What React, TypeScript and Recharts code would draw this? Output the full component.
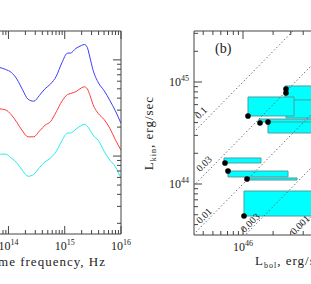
import { LineChart, Line, XAxis, YAxis, ComposedChart, Scatter, ReferenceArea, ReferenceLine, ReferenceDot } from 'recharts'

const SERIF = '"Liberation Serif", "DejaVu Serif", serif'
const AXIS = '#444'

// panel (a): SEDs, log nu vs log nuL_nu
const nuLog = [13.85, 13.95, 14.05, 14.15, 14.25, 14.35, 14.45, 14.55, 14.65, 14.75, 14.85, 14.95, 15.05, 15.1, 15.2, 15.3, 15.35, 15.4, 15.45, 15.5, 15.6, 15.7, 15.8, 15.9, 16.0]
const blueSed = [44.92, 44.9, 44.87, 44.8, 44.69, 44.59, 44.57, 44.63, 44.7, 44.75, 44.83, 44.97, 45.07, 45.07, 45.12, 45.15, 45.16, 45.13, 45.02, 44.9, 44.76, 44.68, 44.58, 44.47, 44.34]
const redSed = [44.49, 44.48, 44.43, 44.35, 44.26, 44.2, 44.2, 44.26, 44.32, 44.36, 44.46, 44.57, 44.64, 44.65, 44.67, 44.71, 44.72, 44.7, 44.63, 44.54, 44.44, 44.38, 44.29, 44.17, 44.06]
const cyanSed = [44.02, 44.02, 43.98, 43.93, 43.85, 43.79, 43.81, 43.88, 43.94, 43.98, 44.05, 44.16, 44.24, 44.24, 44.28, 44.32, 44.33, 44.31, 44.27, 44.22, 44.16, 44.05, 43.96, 43.89, 43.77]

// panel (b): log L_kin vs log L_bol boxes, with the marked point of each
const lbolLo = [46.01, 46.04, 45.85, 45.81, 46.25, 46.16, 46.43, 46.42, 46.05]
const lbolHi = [46.9, 46.54, 46.45, 46.18, 46.9, 46.9, 46.9, 46.9, 46.51]
const lkinLo = [43.686, 44.039, 44.069, 44.206, 44.5, 44.608, 44.647, 44.824, 44.667]
const lkinHi = [43.931, 44.059, 44.127, 44.255, 44.618, 44.637, 44.912, 44.961, 44.853]
const dotLbol = [46.01, 46.04, 45.85, 45.82, 46.25, 46.17, 46.43, 46.43, 46.05]
const dotLkin = [43.686, 44.049, 44.127, 44.206, 44.608, 44.598, 44.892, 44.931, 44.667]

// L_kin / L_bol lines and where their labels sit
const ratios = [0.1, 0.03, 0.01, 0.003, 0.001]
const ratioNames = ['0.1', '0.03', '0.01', '0.003', '0.001']
const ratioLabelX = [45.58, 45.61, 45.61, 46.07, 46.57]
const ratioLabelY = [44.7, 44.2, 43.69, 43.62, 43.6]

const nuDomain = [13.85, 16]
const sedDomain = [43.19, 45.3]
const lbolDomain = [45.51, 46.68]
const lkinDomain = [43.5, 45.5]
const minorMult = [2, 3, 4, 5, 6, 7, 8, 9]

const sedRows = nuLog.map((nu, i) => ({ nu, blue: blueSed[i], red: redSed[i], cyan: cyanSed[i] }))
const dots = dotLbol.map((x, i) => ({ x, y: dotLkin[i] }))

function logTicks([lo, hi]: number[]) {
  const out: number[] = []
  for (let n = Math.floor(lo); n <= Math.ceil(hi); n++) {
    out.push(n)
    minorMult.forEach(m => out.push(n + Math.log10(m)))
  }
  return out.filter(v => v >= lo && v <= hi).sort((a, b) => a - b)
}

const isMajor = (v: number) => Math.abs(v - Math.round(v)) < 1e-9

function LogTick({ x, y, payload, side, labelled }: any) {
  const v = payload.value
  const major = isMajor(v)
  const len = major ? 8 : 4
  let line
  if (side === 'bottom') line = <line x1={x} x2={x} y1={y} y2={y - len} />
  else if (side === 'top') line = <line x1={x} x2={x} y1={y} y2={y + len} />
  else if (side === 'left') line = <line x1={x} x2={x + len} y1={y} y2={y} />
  else line = <line x1={x} x2={x - len} y1={y} y2={y} />

  let label = null
  if (labelled && major) {
    const exp = Math.round(v)
    if (side === 'bottom') {
      label = (
        <text x={x} y={y + 16} textAnchor="middle" fontSize={12} fill="#222" stroke="none" fontFamily={SERIF}>
          10<tspan dy={-5} fontSize={8}>{exp}</tspan>
        </text>
      )
    } else {
      label = (
        <text x={x - 5} y={y + 4} textAnchor="end" fontSize={12} fill="#222" stroke="none" fontFamily={SERIF}>
          10<tspan dy={-5} fontSize={8}>{exp}</tspan>
        </text>
      )
    }
  }
  return (
    <g stroke={AXIS} strokeWidth={1}>
      {line}
      {label}
    </g>
  )
}

const tickFor = (side: string, labelled: boolean) => (p: any) => <LogTick {...p} side={side} labelled={labelled} />

export default function App() {
  const nuTicks = logTicks(nuDomain)
  const sedTicks = logTicks(sedDomain)
  const lbolTicks = logTicks(lbolDomain)
  const lkinTicks = logTicks(lkinDomain)

  return (
    <div style={{ position: 'fixed', left: 0, top: 0, width: 311, height: 284, overflow: 'hidden', background: '#fff' }}>
      {/* panel (a), cut off on the left */}
      <div style={{ position: 'absolute', left: 0, top: 0 }}>
        <LineChart width={145} height={284} data={sedRows} margin={{ top: 30, right: 23, bottom: 49, left: 0 }}>
          <XAxis type="number" dataKey="nu" domain={nuDomain} allowDataOverflow ticks={nuTicks} interval={0}
            height={1} tickSize={0} tickMargin={0} tickLine={false} axisLine={{ stroke: AXIS }} tick={tickFor('bottom', true)} />
          <XAxis xAxisId="top" orientation="top" type="number" dataKey="nu" domain={nuDomain} allowDataOverflow ticks={nuTicks} interval={0}
            height={1} tickSize={0} tickMargin={0} tickLine={false} axisLine={{ stroke: AXIS }} tick={tickFor('top', false)} />
          <YAxis orientation="right" type="number" domain={sedDomain} allowDataOverflow ticks={sedTicks} interval={0}
            width={1} tickSize={0} tickMargin={0} tickLine={false} axisLine={{ stroke: AXIS }} tick={tickFor('right', false)} />
          <Line type="monotone" dataKey="blue" stroke="#3c3cff" strokeWidth={1} dot={false} isAnimationActive={false} />
          <Line type="monotone" dataKey="red" stroke="#ff3c3c" strokeWidth={1} dot={false} isAnimationActive={false} />
          <Line type="monotone" dataKey="cyan" stroke="#22eeee" strokeWidth={1} dot={false} isAnimationActive={false} />
        </LineChart>
      </div>

      {/* panel (b), cut off on the right */}
      <div style={{ position: 'absolute', left: 140, top: 0 }}>
        <ComposedChart width={171} height={284} margin={{ top: 30, right: 0, bottom: 48, left: 53 }}>
          <XAxis type="number" dataKey="x" domain={lbolDomain} allowDataOverflow ticks={lbolTicks} interval={0}
            height={1} tickSize={0} tickMargin={0} tickLine={false} axisLine={{ stroke: AXIS }} tick={tickFor('bottom', true)} />
          <XAxis xAxisId="top" orientation="top" type="number" dataKey="x" domain={lbolDomain} allowDataOverflow ticks={lbolTicks} interval={0}
            height={1} tickSize={0} tickMargin={0} tickLine={false} axisLine={{ stroke: AXIS }} tick={tickFor('top', false)} />
          <YAxis type="number" dataKey="y" domain={lkinDomain} allowDataOverflow ticks={lkinTicks} interval={0}
            width={1} tickSize={0} tickMargin={0} tickLine={false} axisLine={{ stroke: AXIS }} tick={tickFor('left', true)} />
          {lbolLo.map((lo, i) => (
            <ReferenceArea key={'box' + i} x1={lo} x2={lbolHi[i]} y1={lkinLo[i]} y2={lkinHi[i]}
              fill="#00ffff" fillOpacity={1} stroke="#4f9d9d" strokeWidth={1} ifOverflow="hidden" />
          ))}
          {ratios.map((r, i) => (
            <ReferenceLine key={'ratio' + i} ifOverflow="hidden" stroke="#555" strokeWidth={1} strokeDasharray="1.2 2.4"
              segment={[{ x: 45, y: 45 + Math.log10(r) }, { x: 48, y: 48 + Math.log10(r) }]} />
          ))}
          {ratioNames.map((name, i) => (
            <ReferenceDot key={'rl' + i} x={ratioLabelX[i]} y={ratioLabelY[i]} r={0} ifOverflow="visible"
              shape={(p: any) => (
                <text x={p.cx} y={p.cy} transform={`rotate(-45 ${p.cx} ${p.cy})`} textAnchor="middle" dominantBaseline="central"
                  fontSize={10} fill="#222" fontFamily={SERIF}>{name}</text>
              )} />
          ))}
          <Scatter data={dots} dataKey="y" isAnimationActive={false}
            shape={(p: any) => <circle cx={p.cx} cy={p.cy} r={2.8} fill="#000" />} />
        </ComposedChart>
      </div>

      {/* titles */}
      <svg width={311} height={284} style={{ position: 'absolute', left: 0, top: 0, pointerEvents: 'none' }} fontFamily={SERIF} fill="#222">
        <text x={106} y={266} textAnchor="end" fontSize={13} letterSpacing={1}>Rest frame frequency, Hz</text>
        <text x={255} y={265} fontSize={13} letterSpacing={1}>
          L<tspan dy={3} fontSize={8}>bol</tspan><tspan dy={-3}>, erg/sec</tspan>
        </text>
        <text transform="translate(153,133) rotate(-90)" textAnchor="middle" fontSize={13} letterSpacing={1}>
          L<tspan dy={3} fontSize={8}>kin</tspan><tspan dy={-3}>, erg/sec</tspan>
        </text>
        <text x={215} y={53} fontSize={14}>(b)</text>
      </svg>
    </div>
  )
}
